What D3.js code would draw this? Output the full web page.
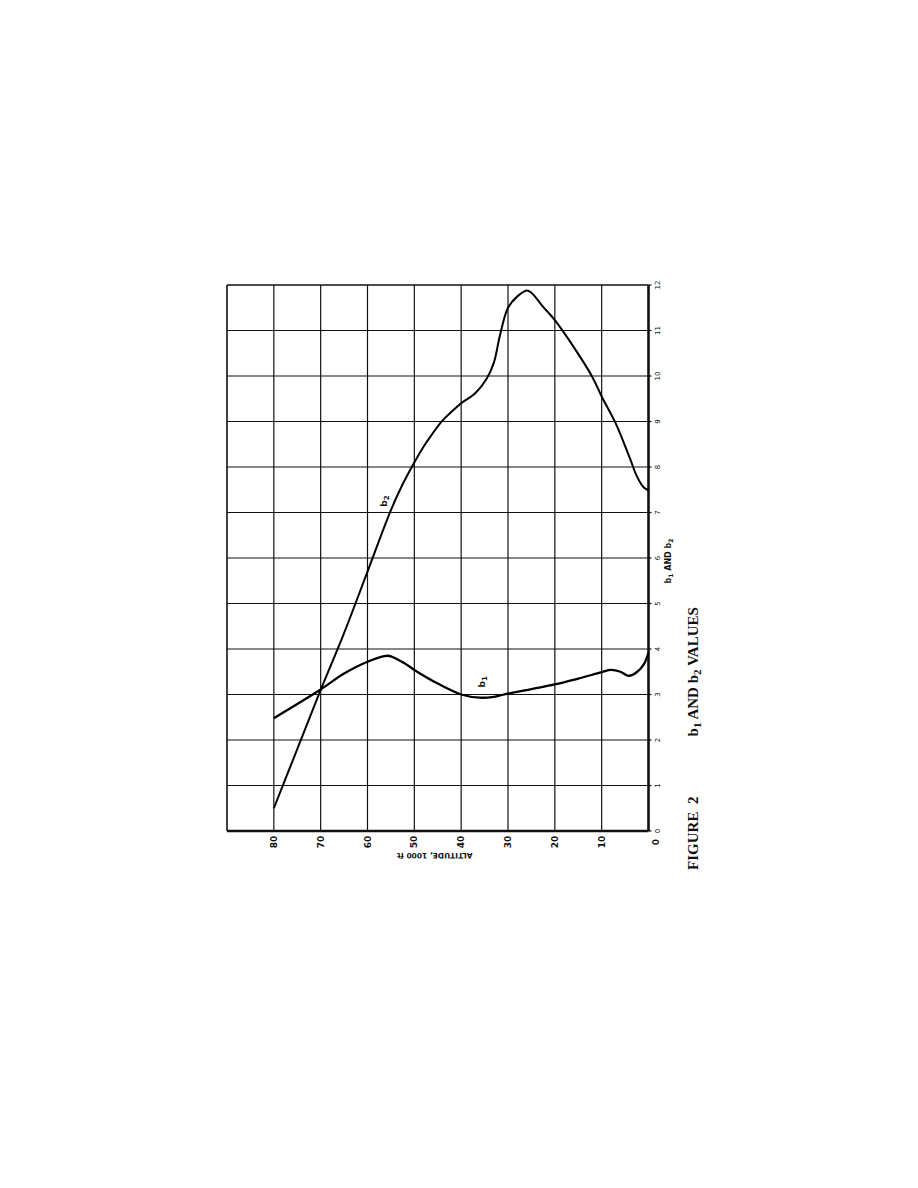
<!DOCTYPE html>
<html>
<head>
<meta charset="utf-8">
<script src="https://cdn.jsdelivr.net/npm/d3@7/dist/d3.min.js"></script>
<style>
  html, body { margin: 0; padding: 0; background: #ffffff; }
  svg { display: block; }
</style>
</head>
<body>
<svg id="chart" width="918" height="1188"></svg>
<script>
// ---- data ----
const altitudeTicks = [0, 10, 20, 30, 40, 50, 60, 70, 80];      // 1000 ft
const altitudeGrid = [0, 10, 20, 30, 40, 50, 60, 70, 80, 90];
const bTicks = [0, 1, 2, 3, 4, 5, 6, 7, 8, 9, 10, 11, 12];

const b1Alt = [80, 70, 65, 60, 56, 55, 52, 50, 45, 40, 36, 33, 30, 25, 20, 15, 10, 8, 6, 4.2, 2.4, 1, 0];
const b1Val = [2.48, 3.11, 3.46, 3.72, 3.85, 3.84, 3.68, 3.54, 3.24, 3.0, 2.93, 2.95, 3.02, 3.12, 3.22, 3.35, 3.49, 3.54, 3.5, 3.41, 3.5, 3.66, 3.92];

const b2Alt = [80, 75, 70, 65, 60, 55, 52.5, 50, 48, 46, 44, 42, 40, 37, 34.5, 33, 31.7, 30, 28, 26, 25, 22.5, 20, 16.7, 12, 10, 7, 4, 2.5, 1, 0];
const b2Val = [0.5, 1.8, 3.1, 4.35, 5.7, 7.05, 7.62, 8.1, 8.45, 8.75, 9.02, 9.22, 9.4, 9.62, 9.95, 10.3, 10.9, 11.5, 11.75, 11.88, 11.83, 11.52, 11.23, 10.75, 9.98, 9.55, 8.96, 8.2, 7.8, 7.55, 7.49];

// ---- scales (chart is rotated: altitude runs right->left, b runs bottom->top) ----
const x = d3.scaleLinear().domain([0, 90]).range([648.5, 227]);
const y = d3.scaleLinear().domain([0, 12]).range([831, 285]);

const svg = d3.select("#chart");
const g = svg.append("g");

// grid
g.selectAll("line.vgrid").data(altitudeGrid).enter().append("line")
  .attr("x1", d => x(d)).attr("x2", d => x(d))
  .attr("y1", y(12)).attr("y2", y(0))
  .attr("stroke", "#111").attr("stroke-width", d => d === 0 ? 2.6 : (d === 90 ? 1.6 : 1.2));
g.selectAll("line.hgrid").data(bTicks).enter().append("line")
  .attr("x1", x(90)).attr("x2", x(0))
  .attr("y1", d => y(d)).attr("y2", d => y(d))
  .attr("stroke", "#111").attr("stroke-width", d => d === 0 ? 2.6 : (d === 12 ? 1.6 : 1.2));

// tick marks beyond right edge
g.selectAll("line.btick").data(bTicks).enter().append("line")
  .attr("x1", x(0)).attr("x2", x(0) + 3)
  .attr("y1", d => y(d)).attr("y2", d => y(d))
  .attr("stroke", "#111").attr("stroke-width", 1.2);

// curves
const line = d3.line().x(d => x(d[0])).y(d => y(d[1])).curve(d3.curveCatmullRom.alpha(0.5));
g.append("path").datum(b2Alt.map((a, i) => [a, b2Val[i]]))
  .attr("d", line).attr("fill", "none").attr("stroke", "#000").attr("stroke-width", 2);
g.append("path").datum(b1Alt.map((a, i) => [a, b1Val[i]]))
  .attr("d", line).attr("fill", "none").attr("stroke", "#000").attr("stroke-width", 2.3);

// altitude tick labels (rotated)
g.selectAll("text.alt").data(altitudeTicks).enter().append("text")
  .attr("transform", d => `translate(${x(d) + (d === 0 ? 7 : 0)},${y(0) + 11}) rotate(-90)`)
  .attr("text-anchor", "middle").attr("dominant-baseline", "central")
  .attr("font-family", "DejaVu Sans, sans-serif").attr("font-weight", "bold")
  .attr("font-size", 9).attr("fill", "#111")
  .text(d => d);

// b tick labels
g.selectAll("text.b").data(bTicks).enter().append("text")
  .attr("transform", d => `translate(${x(0) + 9},${y(d)}) rotate(-90)`)
  .attr("text-anchor", "middle").attr("dominant-baseline", "central")
  .attr("font-family", "DejaVu Sans, sans-serif")
  .attr("font-size", 7).attr("fill", "#111")
  .text(d => d);

// axis title: altitude (upside down)
g.append("text")
  .attr("transform", `translate(${x(45) - 3},${y(0) + 24}) rotate(180)`)
  .attr("text-anchor", "middle").attr("dominant-baseline", "central")
  .attr("font-family", "DejaVu Sans, sans-serif").attr("font-weight", "bold")
  .attr("font-size", 7.5).attr("fill", "#111")
  .text("ALTITUDE, 1000 ft");

// axis title: b1 AND b2
const bt = g.append("text")
  .attr("transform", `translate(${x(0) + 19},${y(6) + 3}) rotate(-90)`)
  .attr("text-anchor", "middle").attr("dominant-baseline", "central")
  .attr("font-family", "DejaVu Sans, sans-serif").attr("font-weight", "bold")
  .attr("font-size", 8).attr("fill", "#111");
bt.append("tspan").text("b");
bt.append("tspan").attr("font-size", 6).attr("dy", 2).text("1");
bt.append("tspan").attr("dy", -2).text(" AND b");
bt.append("tspan").attr("font-size", 6).attr("dy", 2).text("2");

// curve labels
function curveLabel(sub, a, b) {
  const t = g.append("text")
    .attr("transform", `translate(${x(a)},${y(b)}) rotate(-90)`)
    .attr("text-anchor", "middle").attr("dominant-baseline", "central")
    .attr("font-family", "DejaVu Sans, sans-serif").attr("font-weight", "bold")
    .attr("font-size", 9).attr("fill", "#111");
  t.append("tspan").text("b");
  t.append("tspan").attr("font-size", 7).attr("dy", 3).text(sub);
}
curveLabel("2", 56.5, 7.25);
curveLabel("1", 35.5, 3.28);

// figure caption
const cap = g.append("text")
  .attr("transform", `translate(693,${y(3.5)}) rotate(-90)`)
  .attr("text-anchor", "middle").attr("dominant-baseline", "central")
  .attr("font-family", "Liberation Serif, serif").attr("font-weight", "bold")
  .attr("font-size", 15).attr("fill", "#111");
cap.append("tspan").text("b");
cap.append("tspan").attr("font-size", 11).attr("dy", 4).text("1");
cap.append("tspan").attr("dy", -4).text(" AND b");
cap.append("tspan").attr("font-size", 11).attr("dy", 4).text("2");
cap.append("tspan").attr("dy", -4).text(" VALUES");

g.append("text")
  .attr("transform", `translate(693,${y(-0.05)}) rotate(-90)`)
  .attr("text-anchor", "middle").attr("dominant-baseline", "central")
  .attr("font-family", "Liberation Serif, serif").attr("font-weight", "bold")
  .attr("font-size", 15).attr("fill", "#111")
  .attr("xml:space", "preserve")
  .text("FIGURE  2");
</script>
</body>
</html>
